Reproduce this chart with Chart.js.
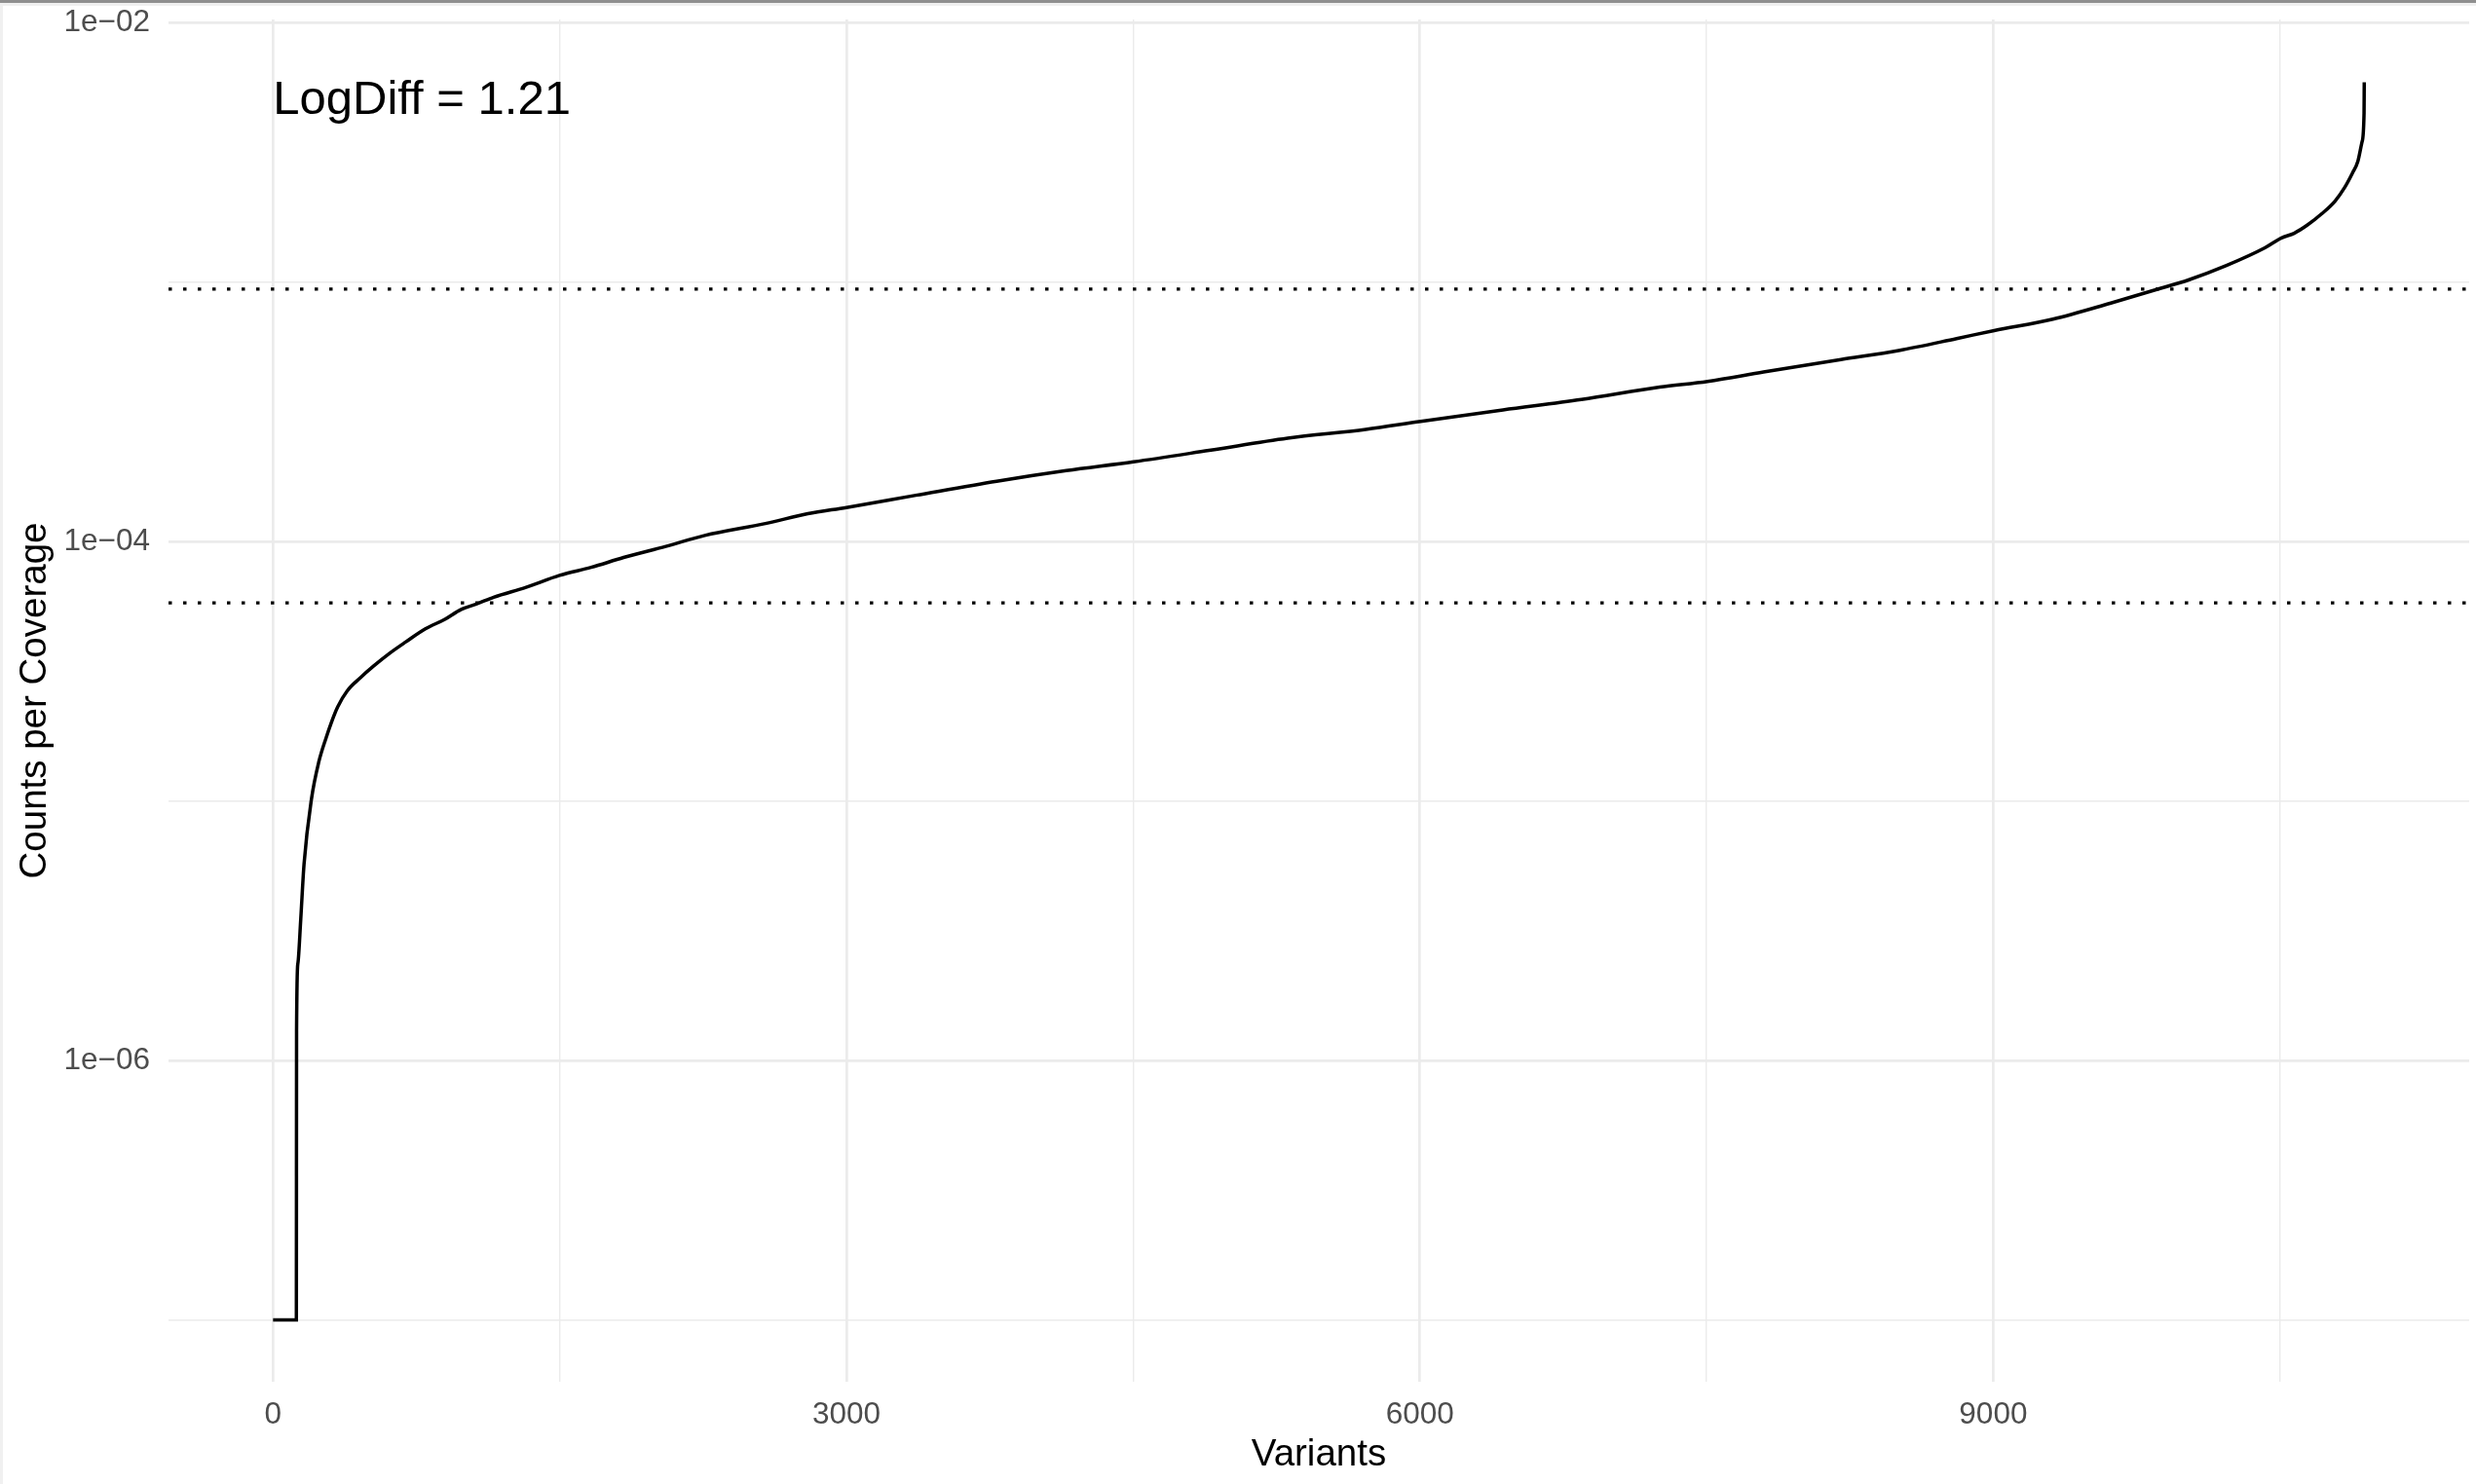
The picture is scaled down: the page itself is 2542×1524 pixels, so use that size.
<!DOCTYPE html>
<html>
<head>
<meta charset="utf-8">
<title>Counts per Coverage</title>
<script src="https://cdn.jsdelivr.net/npm/chart.js@4.4.1/dist/chart.umd.min.js"></script>
<style>
    html, body { margin: 0; padding: 0; background: #fff; }
    #wrap { position: relative; width: 2542px; height: 1524px; overflow: hidden; }
    #chart { position: absolute; left: 0; top: 0; }
    .edge { position: absolute; }
    .edge-top { left: 0; top: 0; width: 2542px; height: 3px; background: #8f8f8f; }
    .edge-top2 { left: 0; top: 3px; width: 2542px; height: 3px; background: #f0f0f0; }
    .edge-left { left: 0; top: 3px; width: 3px; height: 1521px; background: #f0f0f0; }
</style>
</head>
<body>
<div id="wrap">
    <canvas id="chart" width="2542" height="1524"></canvas>
    <div class="edge edge-top2"></div>
    <div class="edge edge-left"></div>
    <div class="edge edge-top"></div>
</div>
<script>
// Sorted variants (x) and their counts per coverage (y)
const variants = [
    0, 122, 123, 130, 145, 162, 201, 239, 278, 304, 338, 389, 457, 525, 610, 695,
    797, 899, 984, 1069, 1154, 1324, 1499, 1664, 1834, 2055, 2259, 2576, 2798, 3000,
    3363, 3786, 4150, 4502, 4897, 5308, 5717, 6005, 6435, 6845, 7255, 7505, 7798,
    8203, 8505, 8808, 9005, 9312, 9615, 9877, 10018, 10220, 10421, 10508, 10574,
    10644, 10720, 10788, 10839, 10880, 10907, 10929, 10940, 10941
];
const countsPerCoverage = [
    1.0e-7, 1.0e-7, 1.30e-6, 2.37e-6, 3.52e-6, 5.71e-6, 1.02e-5, 1.413e-5, 1.758e-5,
    2.000e-5, 2.307e-5, 2.667e-5, 2.992e-5, 3.311e-5, 3.715e-5, 4.111e-5,
    4.613e-5, 5.023e-5, 5.483e-5, 5.768e-5, 6.109e-5, 6.668e-5, 7.413e-5, 7.962e-5,
    8.690e-5, 9.594e-5, 1.057e-4, 1.175e-4, 1.282e-4, 1.355e-4,
    1.510e-4, 1.710e-4, 1.879e-4, 2.032e-4, 2.249e-4, 2.506e-4, 2.710e-4, 2.911e-4,
    3.221e-4, 3.532e-4, 3.945e-4, 4.150e-4, 4.508e-4,
    5.035e-4, 5.458e-4, 6.067e-4, 6.516e-4, 7.211e-4, 8.318e-4, 9.484e-4, 1.019e-3,
    1.161e-3, 1.358e-3, 1.483e-3, 1.545e-3,
    1.663e-3, 1.841e-3, 2.056e-3, 2.323e-3, 2.642e-3, 2.917e-3, 3.467e-3, 4.487e-3,
    5.902e-3
];

// Dotted cutoff lines
const upperCutoff = 9.42e-4;
const lowerCutoff = 5.81e-5;
const logDiffText = 'LogDiff = 1.21';

// Ticks
const xTicks = [0, 1500, 3000, 4500, 6000, 7500, 9000, 10500];
const xMajorTicks = [0, 3000, 6000, 9000];
const yTicks = [1e-7, 1e-6, 1e-5, 1e-4, 1e-3, 1e-2];
const yMajorTicks = [1e-6, 1e-4, 1e-2];

// Axis limits (5% padding around the data, like ggplot)
const xMin = -547;
const xMax = 11490;
const yMin = 5.778e-8;
const yMax = 1.0306e-2;

// Where the LogDiff label sits (data coords, left aligned)
const labelAt = { x: 0, y: 5.0e-3 };

const FONT = '"Liberation Sans", Arial, Helvetica, sans-serif';

function isMajorY(value) {
    return yMajorTicks.some(m => Math.abs(Math.log10(value) - Math.log10(m)) < 1e-6);
}

// 1e-04 style labels with a real minus sign
function formatSci(value) {
    const exp = Math.round(Math.log10(value));
    const sign = exp < 0 ? '\u2212' : '+';
    return '1e' + sign + String(Math.abs(exp)).padStart(2, '0');
}

function toPoints(xs, ys) {
    return xs.map((x, i) => ({ x: x, y: ys[i] }));
}

function hline(value) {
    return toPoints([xMin, xMax], [value, value]);
}

// Draw the LogDiff annotation through the scales
const logDiffPlugin = {
    id: 'logDiff',
    afterDatasetsDraw(chart) {
        const ctx = chart.ctx;
        const x = chart.scales.x.getPixelForValue(labelAt.x);
        const y = chart.scales.y.getPixelForValue(labelAt.y);
        ctx.save();
        ctx.font = '49px ' + FONT;
        ctx.fillStyle = '#000';
        ctx.textAlign = 'left';
        ctx.textBaseline = 'middle';
        ctx.fillText(logDiffText, x, y);
        ctx.restore();
    }
};

function initializeChart() {
    const ctx = document.getElementById('chart').getContext('2d');

    new Chart(ctx, {
        type: 'scatter',
        data: {
            datasets: [
                {
                    data: toPoints(variants, countsPerCoverage),
                    showLine: true,
                    borderColor: '#000',
                    borderWidth: 3.5,
                    pointRadius: 0,
                    cubicInterpolationMode: 'monotone'
                },
                {
                    data: hline(upperCutoff),
                    showLine: true,
                    borderColor: '#000',
                    borderWidth: 3.2,
                    borderDash: [3.5, 11.5],
                    borderCapStyle: 'butt',
                    pointRadius: 0
                },
                {
                    data: hline(lowerCutoff),
                    showLine: true,
                    borderColor: '#000',
                    borderWidth: 3.2,
                    borderDash: [3.5, 11.5],
                    borderCapStyle: 'butt',
                    pointRadius: 0
                }
            ]
        },
        options: {
            responsive: false,
            animation: false,
            layout: { padding: { top: 20, right: 7, left: 0, bottom: 0 } },
            plugins: {
                legend: { display: false },
                tooltip: { enabled: false }
            },
            scales: {
                x: {
                    type: 'linear',
                    min: xMin,
                    max: xMax,
                    afterFit(scale) {
                        scale.height = 105;
                        scale.paddingLeft = 0;
                        scale.paddingRight = 0;
                    },
                    afterBuildTicks(scale) {
                        scale.ticks = xTicks.map(v => ({ value: v }));
                    },
                    border: { display: false },
                    grid: {
                        color: '#ebebeb',
                        drawTicks: false,
                        lineWidth: c => (c.tick && xMajorTicks.includes(c.tick.value)) ? 2.7 : 1.4
                    },
                    ticks: {
                        autoSkip: false,
                        maxRotation: 0,
                        padding: 15,
                        color: '#4d4d4d',
                        font: { family: FONT, size: 31.5 },
                        callback: v => xMajorTicks.includes(v) ? String(v) : ''
                    },
                    title: {
                        display: true,
                        text: 'Variants',
                        color: '#000',
                        font: { family: FONT, size: 38.5 },
                        padding: { top: 0, bottom: 7 }
                    }
                },
                y: {
                    type: 'logarithmic',
                    min: yMin,
                    max: yMax,
                    afterFit(scale) {
                        scale.width = 173;
                        scale.paddingTop = 0;
                        scale.paddingBottom = 0;
                    },
                    afterBuildTicks(scale) {
                        scale.ticks = yTicks.map(v => ({ value: v }));
                    },
                    border: { display: false },
                    grid: {
                        color: '#ebebeb',
                        drawTicks: false,
                        lineWidth: c => (c.tick && isMajorY(c.tick.value)) ? 2.7 : 1.4
                    },
                    ticks: {
                        autoSkip: false,
                        padding: 19,
                        color: '#4d4d4d',
                        font: { family: FONT, size: 31.5 },
                        callback: v => isMajorY(v) ? formatSci(v) : ''
                    },
                    title: {
                        display: true,
                        text: 'Counts per Coverage',
                        color: '#000',
                        font: { family: FONT, size: 38.5 },
                        padding: { top: 13, bottom: 0 }
                    }
                }
            }
        },
        plugins: [logDiffPlugin]
    });
}

document.addEventListener('DOMContentLoaded', initializeChart);
</script>
</body>
</html>
